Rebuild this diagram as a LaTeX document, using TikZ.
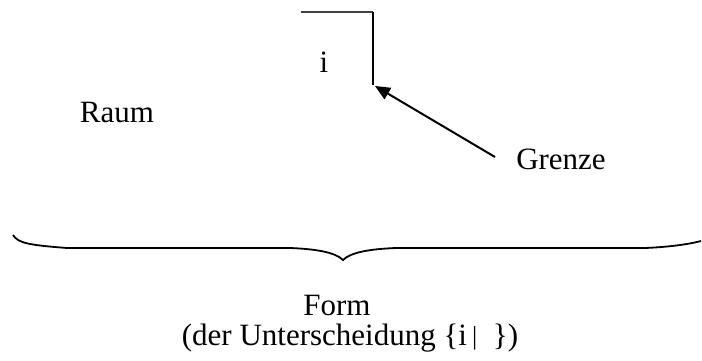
\documentclass[tikz,border=0pt]{standalone}
\usepackage{fontspec}
\setmainfont{Liberation Serif}
\usetikzlibrary{arrows.meta}
\tikzset{
  lbl/.style={anchor=base, inner sep=0pt, font=\fontsize{31}{36}\selectfont},
  thinline/.style={line width=1.3pt, black!75},
  thickline/.style={line width=2pt},
  arr/.style={line width=2pt, -{Triangle[length=15pt,width=13pt]}},
  bracepath/.style={line width=1.8pt}
}
\begin{document}
\begin{tikzpicture}[x=1pt,y=-1pt]
\useasboundingbox (0,0) rectangle (702,361);
\coordinate (h0) at (301,12);
\coordinate (h1) at (373,12);
\coordinate (v1) at (373,85);
\coordinate (tip) at (375,86);
\coordinate (tail) at (495,157);
\draw[thinline] (h0) -- (h1);
\draw[thickline] (h1) -- (v1);
\node[lbl] (i) at (324,73) {i};
\node[lbl] (raum) at (117,122) {Raum};
\node[lbl] (grenze) at (561,169) {Grenze};
\draw[arr] (tail) -- (tip);
\coordinate (bl) at (13,235);
\coordinate (bt) at (343,260);
\coordinate (br) at (701,241);
\draw[bracepath] (bl) .. controls (18,243) and (28,245) .. (67,248) -- (290,248)
  .. controls (315,249) and (335,252) .. (bt)
  .. controls (351,252) and (371,249) .. (396,248) -- (645,248)
  .. controls (670,247) and (690,244) .. (br);
\node[lbl] (form) at (337,315) {Form};
\node[lbl] (unt) at (350,345) {(der Unterscheidung \{i\,{\fontsize{26}{26}\selectfont\raisebox{1pt}{|}}\ \ \})};
\end{tikzpicture}
\end{document}
